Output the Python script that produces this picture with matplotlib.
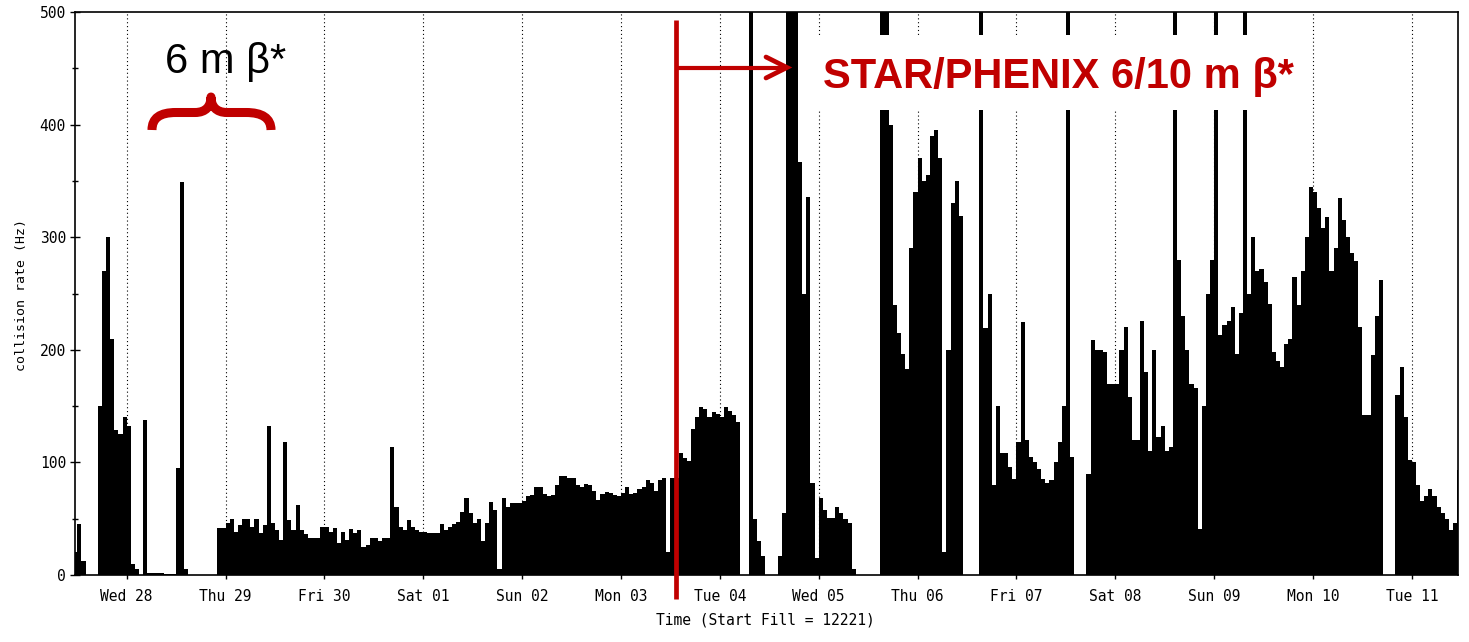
import numpy as np
import matplotlib
matplotlib.use("Agg")
import matplotlib.pyplot as plt
from matplotlib.path import Path
from matplotlib.patches import PathPatch, Rectangle
from matplotlib.lines import Line2D

### hourly collision rate (Hz)
### hour 0 = Wed 28 00:00, the first list starts at hour -13 (Tue 27 afternoon)
tue27 = [20, 45, 12, 0, 0, 0, 150, 270, 300, 210, 129, 125, 140]
wed28 = [132, 10, 5, 0, 138, 2, 2, 2, 2, 1, 1, 1,
         95, 349, 5, 0, 0, 0, 0, 0, 0, 0, 42, 42]
thu29 = [46, 50, 38, 44, 50, 50, 43, 50, 37, 44, 132, 46,
         40, 31, 118, 49, 40, 62, 40, 36, 33, 33, 33, 43]
fri30 = [43, 38, 42, 28, 38, 31, 41, 37, 40, 25, 27, 33,
         33, 30, 33, 33, 114, 60, 43, 40, 49, 43, 40, 38]
sat01 = [38, 37, 37, 37, 45, 40, 43, 45, 47, 56, 68, 55,
         46, 50, 30, 46, 65, 58, 5, 68, 60, 64, 64, 64]
sun02 = [66, 70, 71, 78, 78, 72, 70, 71, 80, 88, 88, 86,
         86, 80, 78, 81, 80, 75, 67, 72, 74, 73, 71, 70]
mon03 = [73, 78, 72, 73, 76, 78, 84, 82, 75, 84, 86, 20,
         86, 86, 108, 104, 101, 130, 140, 149, 147, 140, 145, 143]
tue04 = [140, 149, 146, 142, 136, 0, 0, 500, 50, 30, 17, 0,
         0, 0, 17, 55, 500, 500, 500, 367, 250, 336, 82, 15]
wed05 = [68, 58, 51, 51, 60, 55, 50, 46, 5, 0, 0, 0,
         0, 0, 0, 500, 500, 400, 240, 215, 196, 183, 290, 340]
thu06 = [370, 350, 355, 390, 395, 370, 20, 200, 330, 350, 319, 0,
         0, 0, 0, 500, 219, 250, 80, 150, 108, 108, 96, 85]
fri07 = [118, 225, 120, 105, 100, 94, 85, 82, 84, 100, 118, 150,
         500, 105, 0, 0, 0, 90, 209, 200, 200, 198, 170, 170]
sat08 = [170, 200, 220, 158, 120, 120, 226, 180, 110, 200, 123, 132,
         110, 114, 500, 280, 230, 200, 170, 166, 41, 150, 250, 280]
sun09 = [500, 213, 222, 226, 238, 196, 233, 500, 250, 300, 270, 272,
         260, 241, 198, 190, 185, 205, 210, 265, 240, 270, 300, 345]
mon10 = [340, 326, 308, 318, 270, 290, 335, 315, 300, 286, 279, 220,
         142, 142, 195, 230, 262, 0, 0, 0, 160, 185, 140, 102]
tue11 = [100, 80, 66, 70, 76, 70, 60, 55, 50, 40, 46, 93]

day_labels = ['Wed 28', 'Thu 29', 'Fri 30', 'Sat 01', 'Sun 02', 'Mon 03', 'Tue 04',
              'Wed 05', 'Thu 06', 'Fri 07', 'Sat 08', 'Sun 09', 'Mon 10', 'Tue 11']

rate = np.concatenate([tue27, wed28, thu29, fri30, sat01, sun02, mon03, tue04,
                       wed05, thu06, fri07, sat08, sun09, mon10, tue11])
first_hour = -len(tue27)
edges = np.arange(first_hour, first_hour + len(rate) + 1)

W, H = 1469, 642
fig = plt.figure(figsize=(W / 100, H / 100), dpi=100)
ax = fig.add_axes([75 / W, 1 - 575 / H, (1458 - 75) / W, (575 - 12) / H])

def px(x, y):
    # pixel position (y downward) -> figure fraction
    return x / W, 1 - y / H

mono = 'DejaVu Sans Mono'

day_pos = [24 * i for i in range(len(day_labels))]
for d in day_pos:
    ax.axvline(d, color='black', lw=0.8, ls=(0, (1, 2.5)), zorder=1)

ax.stairs(rate, edges, fill=True, color='black', zorder=2)

ax.set_xlim(-12.55, 323.2)
ax.set_ylim(0, 500)
ax.set_xticks(day_pos)
ax.set_xticklabels(day_labels, family=mono, fontsize=10.5)
ax.set_yticks(range(0, 501, 100))
ax.set_yticks(range(50, 500, 100), minor=True)
ax.set_yticklabels([str(v) for v in range(0, 501, 100)], family=mono, fontsize=10.5)
ax.tick_params(axis='y', which='major', direction='inout', length=7, width=1, pad=3)
ax.tick_params(axis='y', which='minor', direction='inout', length=5, width=1)
ax.tick_params(axis='x', direction='inout', length=6, width=1, pad=7)
for s in ax.spines.values():
    s.set_linewidth(1.2)

fig.text(*px(22, 295), 'collision rate (Hz)', rotation=90, family=mono,
         fontsize=9.5, ha='center', va='center')
fig.text(*px(765, 620), 'Time (Start Fill = 12221)', family=mono,
         fontsize=10.5, ha='center', va='center')

### annotations
red = '#C00000'
sans = 'Liberation Sans'

# white box behind the STAR/PHENIX text
x0, y0 = px(805, 110)
x1, y1 = px(1300, 35)
fig.add_artist(Rectangle((x0, y0), x1 - x0, y1 - y0, transform=fig.transFigure,
                         facecolor='white', edgecolor='none', zorder=3))
fig.text(*px(823, 88), 'STAR/PHENIX 6/10 m \u03b2*', color=red, family=sans,
         fontsize=30, fontweight='bold', ha='left', va='baseline', zorder=4)

fig.text(*px(165, 73), '6 m \u03b2*', color='black', family=sans,
         fontsize=30, ha='left', va='baseline', zorder=4)

# curly brace under "6 m beta*"
brace_px = [(152, 130), (152, 118), (160, 112.5), (176, 112.5),
            (195, 112.5), (206, 112.5), (211, 106), (211, 97),
            (211, 106), (216, 112.5), (227, 112.5),
            (246, 112.5), (262, 112.5), (271, 118), (271, 130)]
codes = [Path.MOVETO, Path.CURVE4, Path.CURVE4, Path.CURVE4,
         Path.LINETO, Path.CURVE4, Path.CURVE4, Path.CURVE4,
         Path.CURVE4, Path.CURVE4, Path.CURVE4,
         Path.LINETO, Path.CURVE4, Path.CURVE4, Path.CURVE4]
brace = Path([px(x, y) for x, y in brace_px], codes)
fig.add_artist(PathPatch(brace, transform=fig.transFigure, facecolor='none',
                         edgecolor=red, lw=6.5, capstyle='butt',
                         joinstyle='round', zorder=4))

# vertical start line and arrow
vx = 675.5
fig.add_artist(Line2D(*zip(px(vx, 20), px(vx, 599)), transform=fig.transFigure,
                      color=red, lw=3.4, solid_capstyle='butt', zorder=4))
fig.add_artist(Line2D(*zip(px(vx, 67.5), px(786, 67.5)), transform=fig.transFigure,
                      color=red, lw=3, solid_capstyle='butt', zorder=4))
fig.add_artist(Line2D(*zip(px(766, 57), px(787, 67.5), px(766, 78)),
                      transform=fig.transFigure, color=red, lw=3.4,
                      solid_capstyle='round', solid_joinstyle='miter', zorder=4))

fig.savefig('out.png', dpi=100)
